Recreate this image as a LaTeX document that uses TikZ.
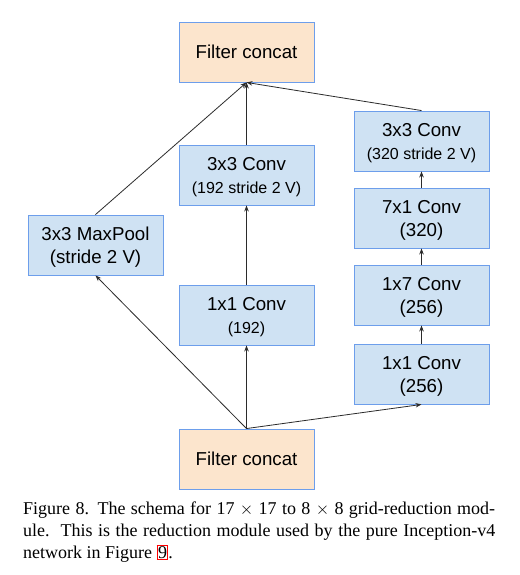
\documentclass[tikz,border=0pt]{standalone}
\usepackage{fontspec}
\setmainfont{Liberation Serif}
\newfontfamily\arialf{Liberation Sans}
\usetikzlibrary{arrows.meta}
\definecolor{boxblue}{HTML}{CFE2F3}
\definecolor{boxorange}{HTML}{FCE5CD}
\definecolor{edgeblue}{HTML}{6D9EEB}
\definecolor{linegray}{HTML}{2B2B2B}
\tikzset{
  layer/.style={draw=edgeblue, line width=0.9pt, minimum width=135pt, minimum height=60pt,
    inner sep=0pt, align=center, font=\arialf\fontsize{18.7}{22}\selectfont},
  convbox/.style={layer, fill=boxblue},
  catbox/.style={layer, fill=boxorange},
  flow/.style={draw=linegray, line width=0.8pt, -{Stealth[length=6pt,width=4.5pt]}},
}
\newcommand{\smalltxt}[1]{{\fontsize{16}{20}\selectfont #1}}
\newcommand{\twolines}[2]{\rule{0pt}{18pt}#1\\[1pt]#2}
\begin{document}
\begin{tikzpicture}[x=1pt,y=-1pt]
\useasboundingbox[fill=white] (0,0) rectangle (519,575);
\node[catbox] (top) at (246.5,52) {Filter concat};
\node[convbox] (c3a) at (246.5,175) {\twolines{3x3 Conv}{\smalltxt{(192 stride 2 V)}}};
\node[convbox] (c1a) at (246.5,315) {\twolines{1x1 Conv}{\smalltxt{(192)}}};
\node[catbox] (bot) at (246.5,459) {Filter concat};
\node[convbox] (mp) at (95.5,245) {\twolines{3x3 MaxPool}{(stride 2 V)}};
\node[convbox] (c3b) at (421.5,141) {\twolines{3x3 Conv}{\smalltxt{(320 stride 2 V)}}};
\node[convbox] (c71) at (421.5,218) {\twolines{7x1 Conv}{(320)}};
\node[convbox] (c17) at (421.5,295) {\twolines{1x7 Conv}{(256)}};
\node[convbox] (c1b) at (421.5,374) {\twolines{1x1 Conv}{(256)}};
% connectors
\draw[flow] (bot.north) -- (c1a.south);
\draw[flow] (c1a.north) -- (c3a.south);
\draw[flow] (c3a.north) -- (top.south);
\draw[flow] (bot.north) -- (mp.south);
\draw[flow] (mp.north) -- (top.south);
\draw[flow] (bot.north) -- (c1b.south);
\draw[flow] (c1b.north) -- (c17.south);
\draw[flow] (c17.north) -- (c71.south);
\draw[flow] (c71.north) -- (c3b.south);
\draw[flow] (c3b.north) -- (top.south);
% caption
\node[anchor=north west, inner sep=0pt, text width=472pt, align=justify,
  font=\fontsize{18}{22}\selectfont] (cap) at (23,501.5)
  {Figure 8. The schema for 17~$\times$~17 to 8~$\times$~8 grid-reduction mod-\linebreak
   ule.\ \ This is the reduction module used by the pure Inception-v4\linebreak
   network in Figure {\fboxsep=0.3pt\fboxrule=1.1pt\fcolorbox{red}{white}{9}}.};
\end{tikzpicture}
\end{document}
